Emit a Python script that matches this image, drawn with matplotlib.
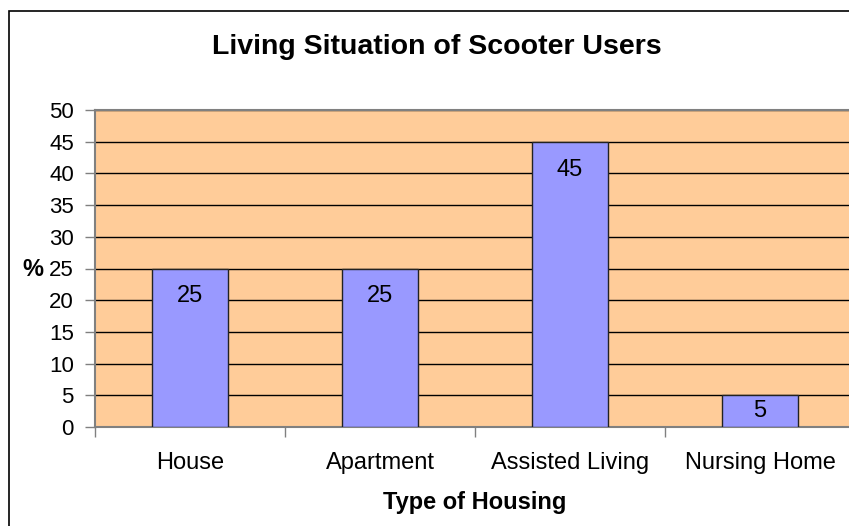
import matplotlib
matplotlib.use("Agg")
import matplotlib.pyplot as plt
from matplotlib.patches import Rectangle

categories = ["House", "Apartment", "Assisted Living", "Nursing Home"]
values = [25, 25, 45, 5]
yticks = [0, 5, 10, 15, 20, 25, 30, 35, 40, 45, 50]

plt.rcParams['font.family'] = ['Liberation Sans', 'DejaVu Sans']

W, H = 849, 526
fig = plt.figure(figsize=(W / 100, H / 100), dpi=100)
fig.patch.set_facecolor('white')

# figure border (chart area)
fig.patches.append(Rectangle((9 / W, -0.1), 1.2, 1 - 10.5 / H + 0.1,
                             transform=fig.transFigure, fill=False,
                             edgecolor='black', linewidth=1.2, zorder=0))

left, right, bottom, top = 95 / W, 855 / W, 1 - 427 / H, 1 - 110 / H
ax = fig.add_axes([left, bottom, right - left, top - bottom])
ax.set_facecolor('#FFCC99')

x = list(range(len(categories)))
ax.set_xlim(-0.5, len(categories) - 0.5)
ax.set_ylim(0, 50)

ax.set_yticks(yticks)
ax.yaxis.grid(True, color='black', linewidth=1)
ax.set_axisbelow(True)

bars = ax.bar(x, values, width=0.4, color='#9999FF', edgecolor='#222222',
              linewidth=1, zorder=3)

for xi, v in zip(x, values):
    if v >= 10:
        ax.annotate(str(v), (xi, v), xytext=(0, -28 * 0.72), textcoords='offset points',
                    ha='center', va='center', fontsize=17, zorder=4)
    else:
        ax.text(xi, v / 2, str(v), ha='center', va='center', fontsize=17, zorder=4)

# x ticks at category boundaries, labels at centers
ax.set_xticks([i - 0.5 for i in range(len(categories) + 1)])
ax.set_xticklabels([])
ax.set_xticks(x, minor=True)
ax.set_xticklabels(categories, minor=True, fontsize=17)
ax.tick_params(axis='x', which='minor', length=0, pad=18)
ax.tick_params(axis='x', which='major', length=7, width=1, color='#808080', direction='out')
ax.tick_params(axis='y', length=7, width=1, color='#808080', direction='out', labelsize=16, pad=8.3)

for side in ['left', 'bottom', 'top']:
    ax.spines[side].set_color('#808080')
    ax.spines[side].set_linewidth(1.5)
ax.spines['right'].set_visible(False)

fig.text(437 / W, 1 - 47 / H, "Living Situation of Scooter Users", ha='center', va='center',
         fontsize=20.5, fontweight='bold')
fig.text(475 / W, 1 - 502 / H, "Type of Housing", ha='center', va='center',
         fontsize=17, fontweight='bold')
fig.text(33 / W, 1 - 270 / H, "%", ha='center', va='center', fontsize=17, fontweight='bold')

fig.savefig("out.png", dpi=100, facecolor='white')
